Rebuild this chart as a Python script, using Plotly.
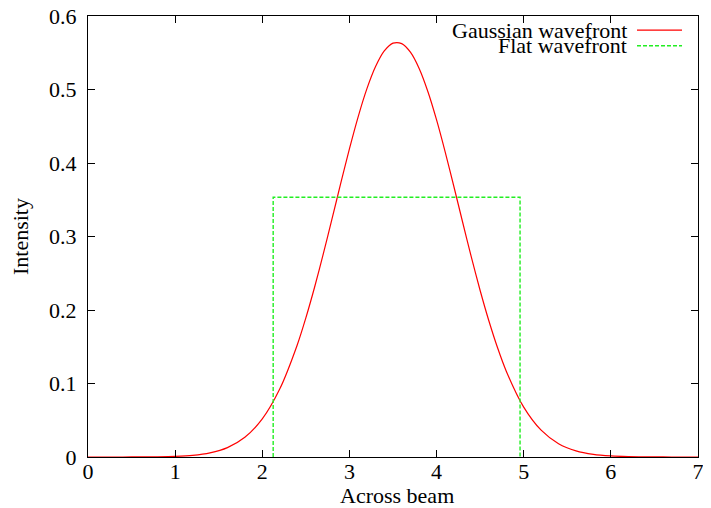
import plotly.graph_objects as go

# Gaussian wavefront intensity
gauss_x = [0.0, 0.2, 0.4, 0.6, 0.8, 1.0, 1.2, 1.4, 1.6, 1.8, 2.0, 2.2, 2.4, 2.5, 2.6, 2.7, 2.8,
           2.9, 3.0, 3.1, 3.2, 3.3, 3.4, 3.5, 3.6, 3.7, 3.8, 3.9, 4.0, 4.1, 4.2, 4.3, 4.4,
           4.5, 4.6, 4.7, 4.8, 5.0, 5.2, 5.4, 5.6, 5.8, 6.0, 6.2, 6.4, 6.6, 6.8, 7.0]
gauss_y = [0.0, 0.00001, 0.00003, 0.0001, 0.0003, 0.0009, 0.0023, 0.0057, 0.0128, 0.0269,
           0.0518, 0.0924, 0.1521, 0.1893, 0.2310, 0.2763, 0.3239, 0.3722, 0.4192, 0.4629,
           0.5009, 0.5313, 0.5525, 0.5631, 0.5625, 0.5508, 0.5287, 0.4974, 0.4587, 0.4146,
           0.3674, 0.3191, 0.2716, 0.2266, 0.1854, 0.1486, 0.1168, 0.0679, 0.0365, 0.0181,
           0.0083, 0.0035, 0.0014, 0.0005, 0.0002, 0.00005, 0.00001, 0.0]

# Flat wavefront (top-hat)
flat_x = [2.125, 2.125, 4.958, 4.958]
flat_y = [0.0, 0.3535, 0.3535, 0.0]

x_ticks = [0, 1, 2, 3, 4, 5, 6, 7]
y_ticks = [0, 0.1, 0.2, 0.3, 0.4, 0.5, 0.6]
y_ticklabels = ["0", "0.1", "0.2", "0.3", "0.4", "0.5", "0.6"]

RED = "#ff0000"
GREEN = "#22ee22"
FONT = "Liberation Serif"
FS = 22

fig = go.Figure()
fig.add_trace(go.Scatter(x=gauss_x, y=gauss_y, mode="lines", name="Gaussian wavefront",
                         line=dict(color=RED, width=1.2, shape="spline", smoothing=0.8),
                         showlegend=False, cliponaxis=False))
fig.add_trace(go.Scatter(x=flat_x, y=flat_y, mode="lines", name="Flat wavefront",
                         line=dict(color=GREEN, width=1.4, dash="4px,2px"), showlegend=False))

axis_common = dict(showline=True, linecolor="black", linewidth=1, mirror="allticks",
                   ticks="inside", ticklen=7, tickcolor="black", showgrid=False,
                   zeroline=False, automargin=False, ticklabeloverflow="allow",
                   tickfont=dict(family=FONT, size=FS, color="black"))

fig.update_xaxes(range=[0, 7.0001], tickvals=x_ticks, ticktext=[str(v) for v in x_ticks],
                 ticklabelstandoff=-5, **axis_common)
fig.update_yaxes(range=[0, 0.6001], tickvals=y_ticks, ticktext=y_ticklabels,
                 ticklabelstandoff=6, **axis_common)

# Axis titles
fig.add_annotation(x=0.506, y=-0.0884, xref="paper", yref="paper", text="Across beam", showarrow=False,
                   xanchor="center", yanchor="middle", font=dict(family=FONT, size=FS, color="black"))
fig.add_annotation(x=-0.1115, y=0.501, xref="paper", yref="paper", text="Intensity", showarrow=False,
                   textangle=-90, xanchor="center", yanchor="middle",
                   font=dict(family=FONT, size=FS, color="black"))

# Manual gnuplot-style legend (text right-aligned, sample line on the right)
legend_rows = [("Gaussian wavefront", RED, None, 0.968), ("Flat wavefront", GREEN, "4px,2px", 0.9327)]
for label, color, dash, yp in legend_rows:
    fig.add_annotation(x=0.8852, y=yp, xref="paper", yref="paper", text=label, showarrow=False,
                       xanchor="right", yanchor="middle", borderpad=0,
                       font=dict(family=FONT, size=FS, color="black"))
    fig.add_shape(type="line", xref="paper", yref="paper", x0=0.900, x1=0.9738, y0=yp, y1=yp,
                  line=dict(color=color, width=1.4, dash=dash))

# The page body adds an 8px margin around the figure
fig.update_layout(width=695, height=500, margin=dict(l=80, r=5, t=8, b=51),
                  paper_bgcolor="white", plot_bgcolor="white",
                  font=dict(family=FONT, color="black"))

fig.write_html("out.html")
